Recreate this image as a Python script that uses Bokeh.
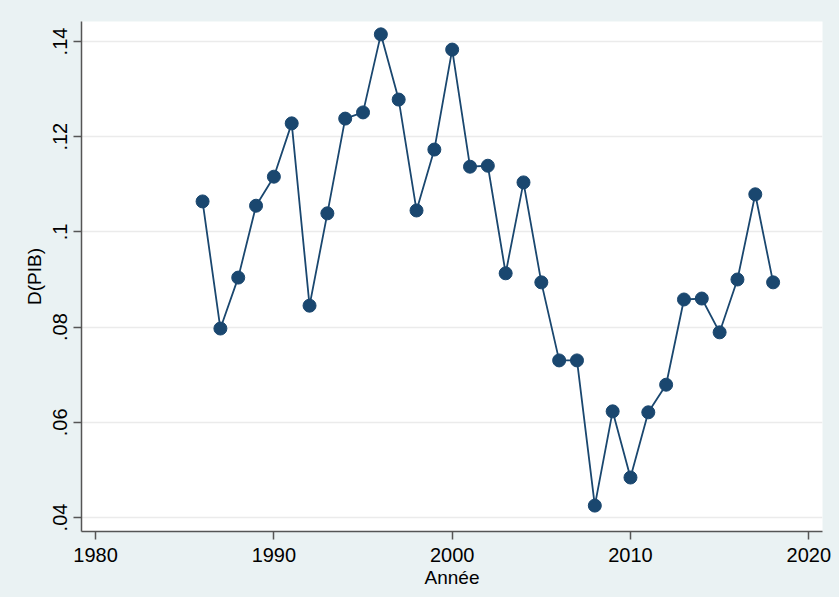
from bokeh.plotting import figure
from bokeh.models import Range1d, FixedTicker, CustomJSTickFormatter
from bokeh.embed import file_html
from bokeh.resources import INLINE

years = list(range(1986, 2019))
dpib = [0.1064, 0.0797, 0.0904, 0.1055, 0.1116, 0.1228, 0.0845, 0.1039,
        0.1238, 0.1251, 0.1415, 0.1278, 0.1045, 0.1173, 0.1383, 0.1137,
        0.1139, 0.0913, 0.1104, 0.0894, 0.0730, 0.0730, 0.0425, 0.0623,
        0.0484, 0.0621, 0.0679, 0.0858, 0.0860, 0.0789, 0.0900, 0.1079,
        0.0894]
x_ticks = [1980, 1990, 2000, 2010, 2020]
y_ticks = [0.04, 0.06, 0.08, 0.10, 0.12, 0.14]

BG = "#EAF2F3"
NAVY = "#1A476F"
FONT = "Liberation Sans"

p = figure(width=839, height=597, output_backend="svg", toolbar_location=None,
           x_range=Range1d(1979.21, 2020.77), y_range=Range1d(0.03706, 0.1442),
           min_border_left=81, min_border_right=17, min_border_top=21, min_border_bottom=66)
p.background_fill_color = "white"
p.border_fill_color = BG
p.outline_line_color = None

p.line(years, dpib, line_color=NAVY, line_width=1.8)
p.scatter(years, dpib, size=13, fill_color=NAVY, line_color=NAVY)

p.xaxis.ticker = FixedTicker(ticks=x_ticks)
p.yaxis.ticker = FixedTicker(ticks=y_ticks)
p.yaxis.formatter = CustomJSTickFormatter(code="return tick.toFixed(2).replace(/^0/, '').replace(/0$/, '');")
p.yaxis.major_label_orientation = "vertical"

for ax in (p.xaxis[0], p.yaxis[0]):
    ax.axis_line_color = "#555555"
    ax.axis_line_width = 1.5
    ax.major_tick_line_color = "#555555"
    ax.major_tick_line_width = 1.5
    ax.major_tick_out = 8
    ax.major_tick_in = 0
    ax.minor_tick_line_color = None
    ax.major_label_text_font = FONT
    ax.major_label_text_font_size = "20px"
    ax.major_label_text_color = "black"
    ax.axis_label_text_font = FONT
    ax.axis_label_text_font_size = "19px"
    ax.axis_label_text_font_style = "normal"
    ax.axis_label_text_color = "black"

p.xaxis.major_label_standoff = 8
p.yaxis.major_label_standoff = 6
p.xaxis.axis_label = "Année"
p.yaxis.axis_label = "D(PIB)"
p.xaxis.axis_label_standoff = 2
p.yaxis.axis_label_standoff = 6

p.xgrid.grid_line_color = None
p.ygrid.grid_line_color = "#EBEBEB"
p.ygrid.grid_line_width = 1.5

html = file_html(p, INLINE)
html = html.replace("<head>", "<head><style>body{background:%s;}</style>" % BG, 1)
open("out.html", "w").write(html)
